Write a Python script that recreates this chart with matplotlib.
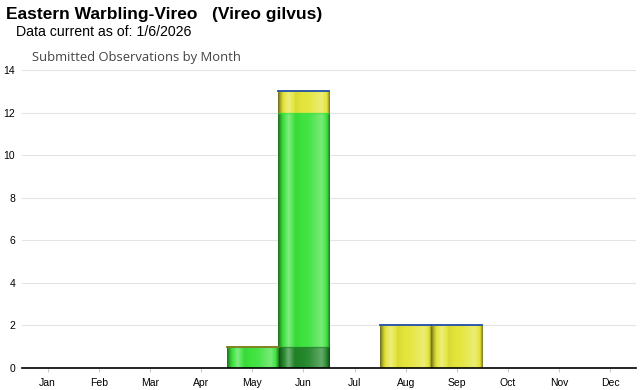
import numpy as np
import matplotlib
matplotlib.use('Agg')
import matplotlib.pyplot as plt
from matplotlib.colors import to_rgb

months = ['Jan', 'Feb', 'Mar', 'Apr', 'May', 'Jun', 'Jul', 'Aug', 'Sep', 'Oct', 'Nov', 'Dec']
dark_green = [0, 0, 0, 0, 0, 1, 0, 0, 0, 0, 0, 0]
green = [0, 0, 0, 0, 1, 11, 0, 0, 0, 0, 0, 0]
yellow = [0, 0, 0, 0, 0, 1, 0, 2, 2, 0, 0, 0]
series = [
    (dark_green, '#23862a'),
    (green, '#3ee23e'),
    (yellow, '#e4e43a'),
]

plt.rcParams['font.family'] = ['Liberation Sans', 'DejaVu Sans']


def gradient(color, n=64):
    # cylinder-ish shading: dark edges, light streak at left, bright right side
    pos = [0.0, 0.06, 0.2, 0.33, 0.6, 0.85, 0.95, 1.0]
    fac = [0.5, 0.85, 1.35, 0.95, 1.05, 1.3, 1.0, 0.55]
    base = np.array(to_rgb(color))
    t = np.linspace(0, 1, n)
    f = np.interp(t, pos, fac)
    img = np.empty((1, n, 3))
    for i, k in enumerate(f):
        if k >= 1:
            img[0, i] = base + (1 - base) * (k - 1)
        else:
            img[0, i] = base * k
    return np.clip(img, 0, 1)


fig = plt.figure(figsize=(6.4, 3.9), dpi=100)
ax = fig.add_axes([22 / 640, 1 - 368 / 390, 614 / 640, 298 / 390])

x = np.arange(len(months))
bottom = np.zeros(len(months))
for values, color in series:
    img = gradient(color)
    for xi, v, b in zip(x, values, bottom):
        if v > 0:
            ax.imshow(img, extent=(xi - 0.5, xi + 0.5, b, b + v), aspect='auto', zorder=2,
                      interpolation='bilinear')
            ax.plot([xi - 0.5, xi + 0.5], [b + v, b + v], color=to_rgb(color), lw=1,
                    zorder=3, alpha=0.6)
    bottom += np.array(values)

tops = bottom
for xi, t in zip(x, tops):
    if t > 0:
        c = '#8a7a20' if xi == 4 else '#1f4fa8'
        ax.plot([xi - 0.5, xi + 0.5], [t, t], color=c, lw=1.3, zorder=4)

ax.set_xlim(-0.5, 11.5)
ax.set_ylim(0, 14)
ax.set_yticks(range(0, 15, 2))
ax.set_xticks(x)
ax.set_xticklabels(months)
ax.tick_params(axis='y', length=0, labelsize=7.5, pad=5)
ax.tick_params(axis='x', length=3, labelsize=7.5, color='#cccccc', pad=4)
ax.grid(axis='y', color='#e4e4e4', lw=0.8)
ax.set_axisbelow(True)
for s in ['left', 'right', 'top']:
    ax.spines[s].set_visible(False)
ax.spines['bottom'].set_color('black')
ax.spines['bottom'].set_linewidth(1.2)
ax.spines['bottom'].set_zorder(5)

fig.text(6 / 640, 1 - 15 / 390, 'Eastern Warbling-Vireo   (Vireo gilvus)', fontsize=12.5,
         fontweight='bold', va='center', ha='left')
fig.text(16 / 640, 1 - 32 / 390, 'Data current as of: 1/6/2026', fontsize=10.2,
         va='center', ha='left')
fig.text(32 / 640, 1 - 58 / 390, 'Submitted Observations by Month', fontsize=9.4,
         color='#444444', va='center', ha='left', family=['Open Sans', 'DejaVu Sans'])

fig.savefig('out.png', dpi=100)
